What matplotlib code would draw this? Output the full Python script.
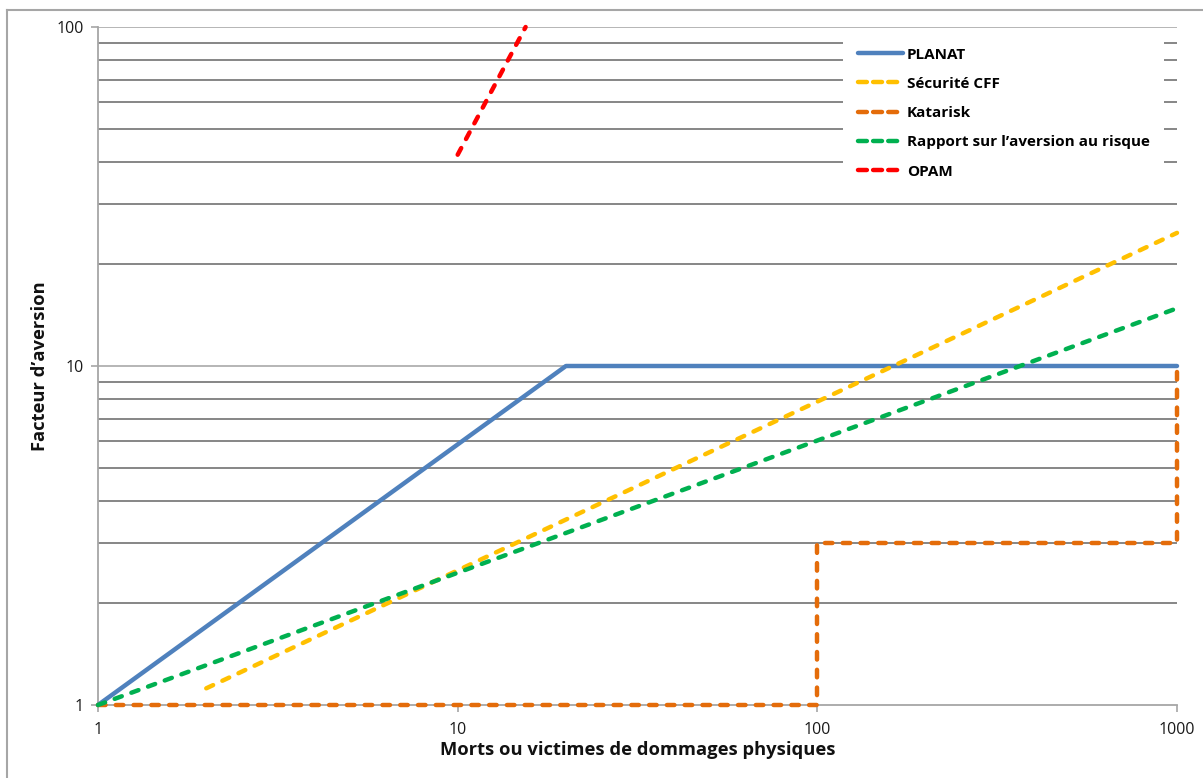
import matplotlib
matplotlib.use("Agg")
import matplotlib.pyplot as plt
from matplotlib.lines import Line2D
from matplotlib.ticker import FixedLocator, NullFormatter, FixedFormatter

plt.rcParams['font.family'] = ['Open Sans', 'DejaVu Sans']

# Number of victims (x) and aversion factor (y) for each approach
planat_x = [1, 20, 1000]
planat_y = [1, 10, 10]

cff_x = [2, 1000]
cff_y = [1.12, 24.7]

katarisk_x = [1, 100, 100, 1000, 1000]
katarisk_y = [1, 1, 3, 3, 10]

rapport_x = [1, 1000]
rapport_y = [1, 14.8]

opam_x = [10, 15.45]
opam_y = [42, 100]

x_ticks = [1, 10, 100, 1000]
y_ticks = [1, 10, 100]

labels = ["PLANAT", "Sécurité CFF", "Katarisk",
          "Rapport sur l\u2019aversion au risque", "OPAM"]
colors = ["#4F81BD", "#FFC000", "#E46C0A", "#00B050", "#FF0000"]

W, H = 1203, 778
fig = plt.figure(figsize=(W / 100, H / 100), dpi=100)
ax = fig.add_axes([98 / W, 1 - 705 / H, (1177 - 98) / W, (705 - 27) / H])

ax.set_xscale('log')
ax.set_yscale('log')
ax.set_xlim(1, 1000)
ax.set_ylim(1, 100)

dash = (1.7, 2.3)
lw = 3.2
ax.plot(planat_x, planat_y, color=colors[0], lw=lw, solid_capstyle='round',
        zorder=3, clip_on=False)
ax.plot(cff_x, cff_y, color=colors[1], lw=lw, dashes=dash, dash_capstyle='round',
        zorder=3, clip_on=False)
ax.plot(katarisk_x, katarisk_y, color=colors[2], lw=lw, dashes=dash,
        dash_capstyle='round', zorder=3, clip_on=False)
ax.plot(rapport_x, rapport_y, color=colors[3], lw=lw, dashes=dash,
        dash_capstyle='round', zorder=3, clip_on=False)
ax.plot(opam_x, opam_y, color=colors[4], lw=lw, dashes=dash, dash_capstyle='round',
        zorder=3, clip_on=False)

# gridlines: light for decades, dark for intermediate values
minor_y = [m * d for d in (1, 10) for m in range(2, 10)]
for v in minor_y:
    ax.axhline(v, color='#666666', lw=1.1, zorder=1)
for v in y_ticks[1:]:
    ax.axhline(v, color='#b5b5b5', lw=1.4, zorder=1)

ax.xaxis.set_major_locator(FixedLocator(x_ticks))
ax.xaxis.set_major_formatter(FixedFormatter([str(v) for v in x_ticks]))
ax.xaxis.set_minor_locator(FixedLocator([]))
ax.xaxis.set_minor_formatter(NullFormatter())
ax.yaxis.set_major_locator(FixedLocator(y_ticks))
ax.yaxis.set_major_formatter(FixedFormatter([str(v) for v in y_ticks]))
ax.yaxis.set_minor_locator(FixedLocator([]))
ax.yaxis.set_minor_formatter(NullFormatter())

ax.tick_params(axis='both', which='major', length=5, width=1.2, color='#a6a6a6',
               labelsize=11.5, labelcolor='#1a1a1a')
ax.tick_params(axis='x', pad=7)
ax.tick_params(axis='y', pad=5)

for side in ('top', 'right'):
    ax.spines[side].set_visible(False)
for side in ('left', 'bottom'):
    ax.spines[side].set_color('#a6a6a6')
    ax.spines[side].set_linewidth(1.3)

ax.set_xlabel("Morts ou victimes de dommages physiques", fontsize=13.2,
              fontweight='bold', labelpad=2.5, color='#111111')
ax.set_ylabel("Facteur d\u2019aversion", fontsize=13.2, fontweight='bold',
              labelpad=5.5, color='#111111')

handles = [Line2D([], [], color=colors[0], lw=lw, solid_capstyle='round')]
for c in colors[1:]:
    handles.append(Line2D([], [], color=c, lw=lw, dashes=(2.0, 1.4),
                          dash_capstyle='round'))
leg = ax.legend(handles, labels, loc='upper left',
                bbox_to_anchor=((843 - 98) / (1177 - 98), 1 - (33 - 27) / 678),
                frameon=True, fancybox=False, framealpha=1.0,
                facecolor='white', edgecolor='none',
                prop={'weight': 'bold', 'size': 11},
                handlelength=2.95, handletextpad=0.28, labelspacing=1.0,
                borderpad=0.95, borderaxespad=0)
leg.set_zorder(5)

# outer chart border
fig.add_artist(Line2D([7 / W, 7 / W], [0, 1 - 10 / H], color='#a6a6a6', lw=1.5,
                      transform=fig.transFigure))
fig.add_artist(Line2D([7 / W, 1], [1 - 10 / H, 1 - 10 / H], color='#a6a6a6', lw=1.5,
                      transform=fig.transFigure))

fig.savefig("out.png", dpi=100, facecolor='white')
